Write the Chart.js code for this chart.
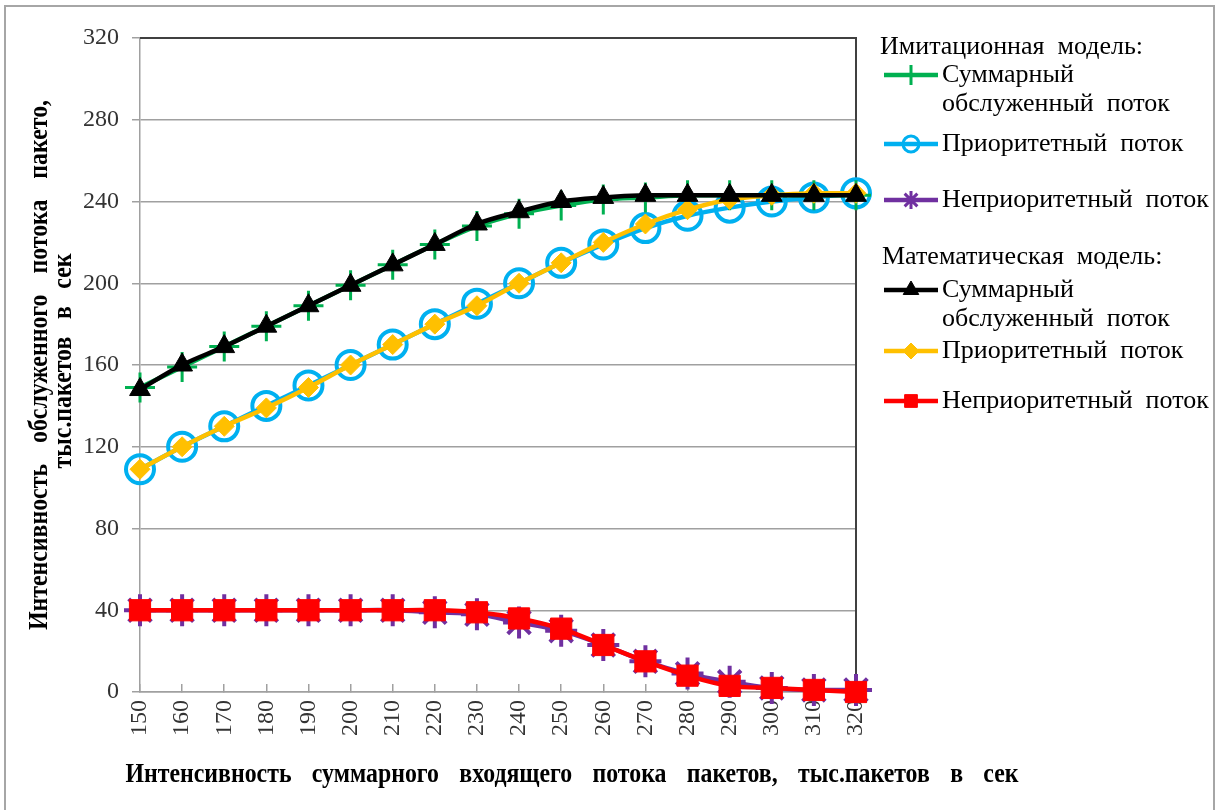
<!DOCTYPE html>
<html>
<head>
<meta charset="utf-8">
<script src="https://cdn.jsdelivr.net/npm/chart.js@4.4.1/dist/chart.umd.min.js"></script>
<style>
  body { margin: 0; background: #fff; }
  #wrap { width: 1219px; height: 810px; }
</style>
</head>
<body>
<div id="wrap"><canvas id="chart"></canvas></div>
<script>
// входящий поток, тыс. пакетов/сек
const categories = [150, 160, 170, 180, 190, 200, 210, 220, 230, 240, 250, 260, 270, 280, 290, 300, 310, 320];

// имитационная модель
const simTotal       = [149, 159, 169, 179, 189, 199, 209, 219, 228, 234, 238, 241, 242, 243, 243, 243, 243, 243];
const simPriority    = [109, 120, 130, 140, 150, 160, 170, 180, 190, 200, 210, 219, 227, 233, 237, 240, 242, 244];
const simNonPriority = [40, 40, 40, 40, 40, 40, 40, 39, 38, 34, 30, 23, 15, 9, 5, 2, 1, 1];

// математическая модель
const mathTotal       = [148, 160, 169, 179, 189, 199, 209, 219, 229, 235, 240, 242, 243, 243, 243, 243, 243, 243];
const mathPriority    = [109, 120, 130, 139, 149, 160, 170, 180, 189, 200, 210, 220, 229, 236, 241, 243, 244, 244];
const mathNonPriority = [40, 40, 40, 40, 40, 40, 40, 40, 39, 36, 31, 23, 15, 8, 3, 2, 1, 0];

const yTicks = [0, 40, 80, 120, 160, 200, 240, 280, 320];

const groupTitles = ["Имитационная  модель:", "Математическая  модель:"];
const seriesNames = [["Суммарный", "обслуженный  поток"], ["Приоритетный  поток"], ["Неприоритетный  поток"]];

const xTitle = "Интенсивность суммарного входящего потока пакетов, тыс.пакетов в сек";
const yTitle = ["Интенсивность обслуженного потока пакето,", "тыс.пакетов в сек"];

const FONT = "'Liberation Serif', 'Times New Roman', serif";

function series(data, color, style, radius, bw, order, fill) {
  return {
    data: data,
    borderColor: color,
    borderWidth: 4.5,
    pointStyle: style,
    pointRadius: radius,
    pointHoverRadius: radius,
    pointBorderWidth: bw,
    pointBorderColor: color,
    pointBackgroundColor: fill || color,
    tension: 0.35,
    clip: false,
    order: order
  };
}

const datasets = [
  series(simTotal, "#00B050", "cross", 15, 3, 1),
  series(simPriority, "#00B0F0", "circle", 14, 4, 1, "rgba(255,255,255,0)"),
  series(simNonPriority, "#7030A0", "star", 16, 4, 1),
  series(mathTotal, "#000000", "triangle", 12, 1, 0),
  series(mathPriority, "#FFC000", "rectRot", 10, 1, 0),
  series(mathNonPriority, "#FF0000", "rect", 15, 1, 0)
];
const legendRadius = [10, 8, 9, 9, 8, 9];

// узкий жирный шрифт подписей осей
function condensedLine(ctx, text, cx, cy, total, angle) {
  const words = text.split(" ");
  const sx = 166 / ctx.measureText("Интенсивность").width;
  const widths = words.map(w => ctx.measureText(w).width * sx);
  const sum = widths.reduce((a, b) => a + b, 0);
  const gap = (total - sum) / (words.length - 1);
  ctx.save();
  ctx.translate(cx, cy);
  ctx.rotate(angle);
  let x = -total / 2;
  words.forEach((w, i) => {
    ctx.save();
    ctx.translate(x, 0);
    ctx.scale(sx, 1);
    ctx.fillText(w, 0, 0);
    ctx.restore();
    x += widths[i] + gap;
  });
  ctx.restore();
}

const decor = {
  id: "decor",
  beforeDraw(chart) {
    const ctx = chart.ctx;
    ctx.save();
    ctx.strokeStyle = "#a6a6a6";
    ctx.lineWidth = 2;
    ctx.strokeRect(5, 6, 1209, 810);
    ctx.restore();
  },
  beforeDatasetsDraw(chart) {
    const ctx = chart.ctx, a = chart.chartArea;
    ctx.save();
    ctx.strokeStyle = "#404040";
    ctx.lineWidth = 2;
    ctx.beginPath();
    ctx.moveTo(a.left, a.top);
    ctx.lineTo(a.right, a.top);
    ctx.lineTo(a.right, a.bottom);
    ctx.stroke();
    ctx.restore();
  },
  afterDraw(chart) {
    const ctx = chart.ctx;
    ctx.save();
    ctx.fillStyle = "#000";
    ctx.textBaseline = "middle";
    ctx.textAlign = "left";

    ctx.font = "bold 27px " + FONT;
    condensedLine(ctx, xTitle, 572, 775, 893, 0);
    condensedLine(ctx, yTitle[0], 40, 365, 530, -Math.PI / 2);
    condensedLine(ctx, yTitle[1], 64, 361, 215, -Math.PI / 2);

    ctx.font = "26px " + FONT;
    ctx.fillText(groupTitles[0], 880, 47);
    ctx.fillText(groupTitles[1], 882, 257);

    const rows = [75, 144, 200, 290, 351, 401];
    chart.data.datasets.forEach((ds, i) => {
      const y = rows[i];
      ctx.strokeStyle = ds.borderColor;
      ctx.lineWidth = ds.borderWidth;
      ctx.beginPath();
      ctx.moveTo(884, y);
      ctx.lineTo(938, y);
      ctx.stroke();
      ctx.fillStyle = ds.pointBackgroundColor;
      ctx.strokeStyle = ds.pointBorderColor;
      ctx.lineWidth = Math.min(ds.pointBorderWidth, 3);
      Chart.helpers.drawPoint(ctx, {
        pointStyle: ds.pointStyle, rotation: 0,
        radius: legendRadius[i], borderWidth: ds.pointBorderWidth
      }, 911, y);
      ctx.fillStyle = "#000";
      seriesNames[i % 3].forEach((t, k) => ctx.fillText(t, 942, y + k * 29));
    });
    ctx.restore();
  }
};

new Chart(document.getElementById("chart"), {
  type: "line",
  data: { labels: categories, datasets: datasets },
  options: {
    responsive: true,
    maintainAspectRatio: false,
    animation: false,
    events: [],
    layout: { padding: { left: 20, top: 38, right: 363, bottom: 18 } },
    plugins: { legend: { display: false }, tooltip: { enabled: false } },
    scales: {
      x: {
        offset: false,
        afterFit(s) { s.height = 100; },
        grid: { drawOnChartArea: false, drawTicks: true, tickLength: -8, color: "#a0a0a0", lineWidth: 1.5 },
        border: { color: "#a0a0a0", width: 1.5 },
        ticks: {
          autoSkip: false, maxRotation: 90, minRotation: 90, padding: 16,
          color: "#333", font: { family: FONT, size: 24 }
        }
      },
      y: {
        min: 0, max: 320,
        afterFit(s) { s.width = 120; },
        afterBuildTicks(s) { s.ticks = yTicks.map(v => ({ value: v })); },
        grid: { color: "#a0a0a0", lineWidth: 1.5, tickLength: 8 },
        border: { color: "#a0a0a0", width: 1.5 },
        ticks: { padding: 13, color: "#333", font: { family: FONT, size: 24 } }
      }
    }
  },
  plugins: [decor]
});
</script>
</body>
</html>
